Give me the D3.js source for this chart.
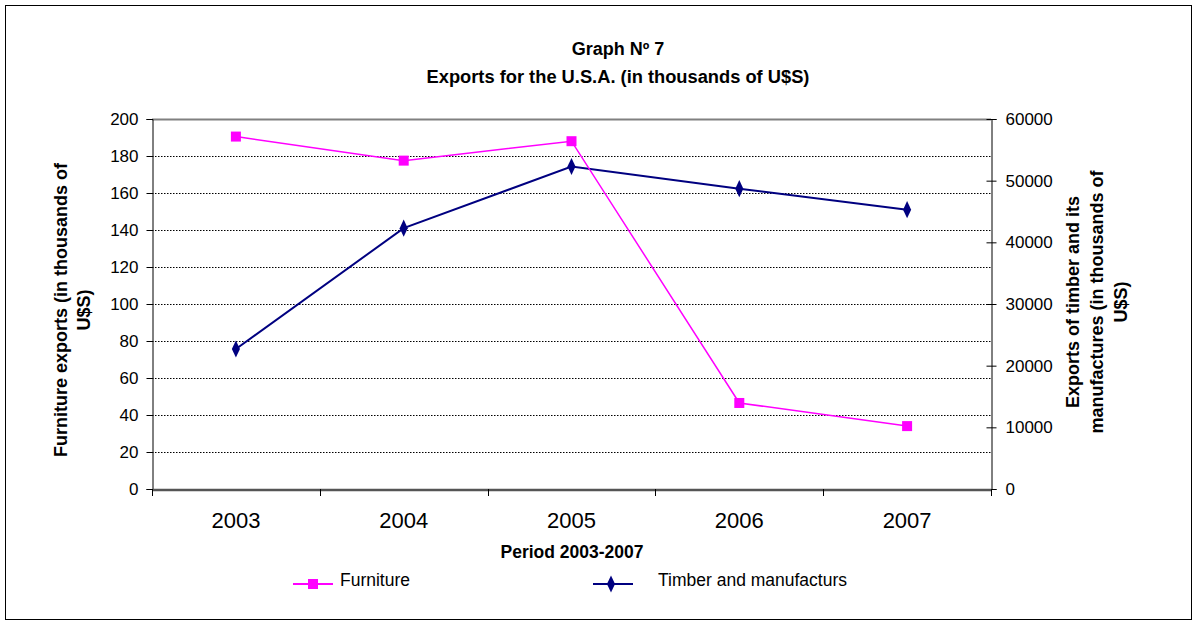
<!DOCTYPE html>
<html>
<head>
<meta charset="utf-8">
<script src="https://cdn.jsdelivr.net/npm/d3@7"></script>
<style>
    body { margin: 0; background: #fff; }
    svg { font-family: "Liberation Sans", Arial, sans-serif; }
</style>
</head>
<body>
<script>
// 数据
const years = ['2003', '2004', '2005', '2006', '2007'];
const furniture = [190.5, 177.5, 188, 46.5, 34];
const timber = [22700, 42300, 52300, 48700, 45300];
const leftTicks = [0, 20, 40, 60, 80, 100, 120, 140, 160, 180, 200];
const rightTicks = [0, 10000, 20000, 30000, 40000, 50000, 60000];

const width = 1198;
const height = 623;
const plot = {left: 152, right: 991, top: 119, bottom: 489};

const svg = d3.select('body')
    .append('svg')
    .attr('width', width)
    .attr('height', height);

// 外框
svg.append('rect')
    .attr('x', 5.5).attr('y', 5.5)
    .attr('width', 1186).attr('height', 614)
    .attr('fill', '#fff')
    .attr('stroke', '#000')
    .attr('stroke-width', 1);

const x = d3.scaleBand()
    .domain(years)
    .range([plot.left, plot.right]);
const yL = d3.scaleLinear().domain([0, 200]).range([plot.bottom, plot.top]);
const yR = d3.scaleLinear().domain([0, 60000]).range([plot.bottom, plot.top]);

// 网格线
svg.append('g')
    .selectAll('line')
    .data(leftTicks.filter(d => d > 0 && d < 200))
    .join('line')
    .attr('x1', plot.left).attr('x2', plot.right)
    .attr('y1', d => Math.round(yL(d)) + 0.5)
    .attr('y2', d => Math.round(yL(d)) + 0.5)
    .attr('stroke', '#000')
    .attr('stroke-width', 1)
    .attr('stroke-dasharray', '1.5,1.5');

svg.append('line')
    .attr('x1', plot.left).attr('x2', plot.right)
    .attr('y1', plot.top + 0.5).attr('y2', plot.top + 0.5)
    .attr('stroke', '#808080').attr('stroke-width', 2);

// 左轴
const leftAxis = svg.append('g')
    .attr('transform', `translate(${plot.left + 0.5},0)`)
    .call(d3.axisLeft(yL).tickValues(leftTicks).tickSize(6).tickPadding(8));
leftAxis.selectAll('text').attr('font-size', 17).attr('fill', '#000').attr('font-family', null);

// 右轴
const rightAxis = svg.append('g')
    .attr('transform', `translate(${plot.right + 0.5},0)`)
    .call(d3.axisRight(yR).tickValues(rightTicks).tickFormat(d3.format('d')).tickSize(5).tickPadding(9));
rightAxis.selectAll('.tick line').attr('x1', -5);
rightAxis.selectAll('text').attr('font-size', 17).attr('fill', '#000').attr('font-family', null);

// 底轴
const bottomAxis = svg.append('g')
    .attr('transform', `translate(0,${plot.bottom + 0.5})`)
    .call(d3.axisBottom(x).tickSize(0).tickPadding(23));
bottomAxis.select('.domain').attr('stroke', '#555').attr('stroke-width', 2.5);
bottomAxis.selectAll('text').attr('font-size', 22).attr('fill', '#000').attr('font-family', null);
svg.append('g')
    .selectAll('line')
    .data(years.concat(['end']))
    .join('line')
    .attr('x1', (d, i) => Math.round(plot.left + i * x.step()) + 0.5)
    .attr('x2', (d, i) => Math.round(plot.left + i * x.step()) + 0.5)
    .attr('y1', plot.bottom).attr('y2', plot.bottom + 7)
    .attr('stroke', '#000');

[leftAxis, rightAxis].forEach(a => a.selectAll('path, line').attr('stroke', '#000'));

const cx = d => x(d) + x.bandwidth() / 2;

// 折线
const lineL = d3.line().x((d, i) => cx(years[i])).y(d => yL(d));
const lineR = d3.line().x((d, i) => cx(years[i])).y(d => yR(d));

svg.append('path')
    .datum(timber)
    .attr('d', lineR)
    .attr('fill', 'none')
    .attr('stroke', '#000080')
    .attr('stroke-width', 2);

svg.append('path')
    .datum(furniture)
    .attr('d', lineL)
    .attr('fill', 'none')
    .attr('stroke', '#ff00ff')
    .attr('stroke-width', 1.5);

const diamond = d3.symbol().type(d3.symbolDiamond).size(70);

svg.append('g')
    .selectAll('path')
    .data(timber)
    .join('path')
    .attr('d', diamond)
    .attr('transform', (d, i) => `translate(${cx(years[i])},${yR(d)}) scale(0.9,1.1)`)
    .attr('fill', '#000080');

svg.append('g')
    .selectAll('rect')
    .data(furniture)
    .join('rect')
    .attr('x', (d, i) => cx(years[i]) - 5)
    .attr('y', d => yL(d) - 5)
    .attr('width', 10)
    .attr('height', 10)
    .attr('fill', '#ff00ff');

// 标题
svg.append('text')
    .attr('x', 618).attr('y', 55)
    .attr('text-anchor', 'middle')
    .attr('font-size', 18).attr('font-weight', 'bold')
    .text('Graph Nº 7');
svg.append('text')
    .attr('x', 618).attr('y', 83)
    .attr('text-anchor', 'middle')
    .attr('font-size', 18.3).attr('font-weight', 'bold')
    .text('Exports for the U.S.A. (in thousands of U$S)');

// 轴标题
svg.append('text')
    .attr('x', 572).attr('y', 558)
    .attr('text-anchor', 'middle')
    .attr('font-size', 17.5).attr('font-weight', 'bold')
    .text('Period 2003-2007');

const leftTitle = svg.append('text')
    .attr('transform', 'translate(67,310) rotate(-90)')
    .attr('text-anchor', 'middle')
    .attr('font-size', 18).attr('font-weight', 'bold');
leftTitle.append('tspan').attr('x', 0).attr('y', 0).text('Furniture exports (in thousands of');
leftTitle.append('tspan').attr('x', 0).attr('y', 23).text('U$S)');

const rightTitle = svg.append('text')
    .attr('transform', 'translate(1079,302) rotate(-90)')
    .attr('text-anchor', 'middle')
    .attr('font-size', 18).attr('font-weight', 'bold');
rightTitle.append('tspan').attr('x', 0).attr('y', 0).text('Exports of timber and its');
rightTitle.append('tspan').attr('x', 0).attr('y', 24).text('manufactures (in thousands of');
rightTitle.append('tspan').attr('x', 0).attr('y', 48).text('U$S)');

// 图例
const legend = [
    {name: 'Furniture', color: '#ff00ff', x: 293, tx: 340, shape: 'square'},
    {name: 'Timber and manufacturs', color: '#000080', x: 593, tx: 658, shape: 'diamond'}
];
const lg = svg.append('g').selectAll('g').data(legend).join('g');
lg.append('line')
    .attr('x1', d => d.x).attr('x2', d => d.x + 40)
    .attr('y1', 584).attr('y2', 584)
    .attr('stroke', d => d.color).attr('stroke-width', 2);
lg.filter(d => d.shape === 'square').append('rect')
    .attr('x', d => d.x + 15).attr('y', 579)
    .attr('width', 10).attr('height', 10)
    .attr('fill', d => d.color);
lg.filter(d => d.shape === 'diamond').append('path')
    .attr('d', diamond)
    .attr('transform', d => `translate(${d.x + 18},584) scale(0.9,1.1)`)
    .attr('fill', d => d.color);
lg.append('text')
    .attr('x', d => d.tx).attr('y', 586)
    .attr('font-size', 17.5)
    .text(d => d.name);
</script>
</body>
</html>
